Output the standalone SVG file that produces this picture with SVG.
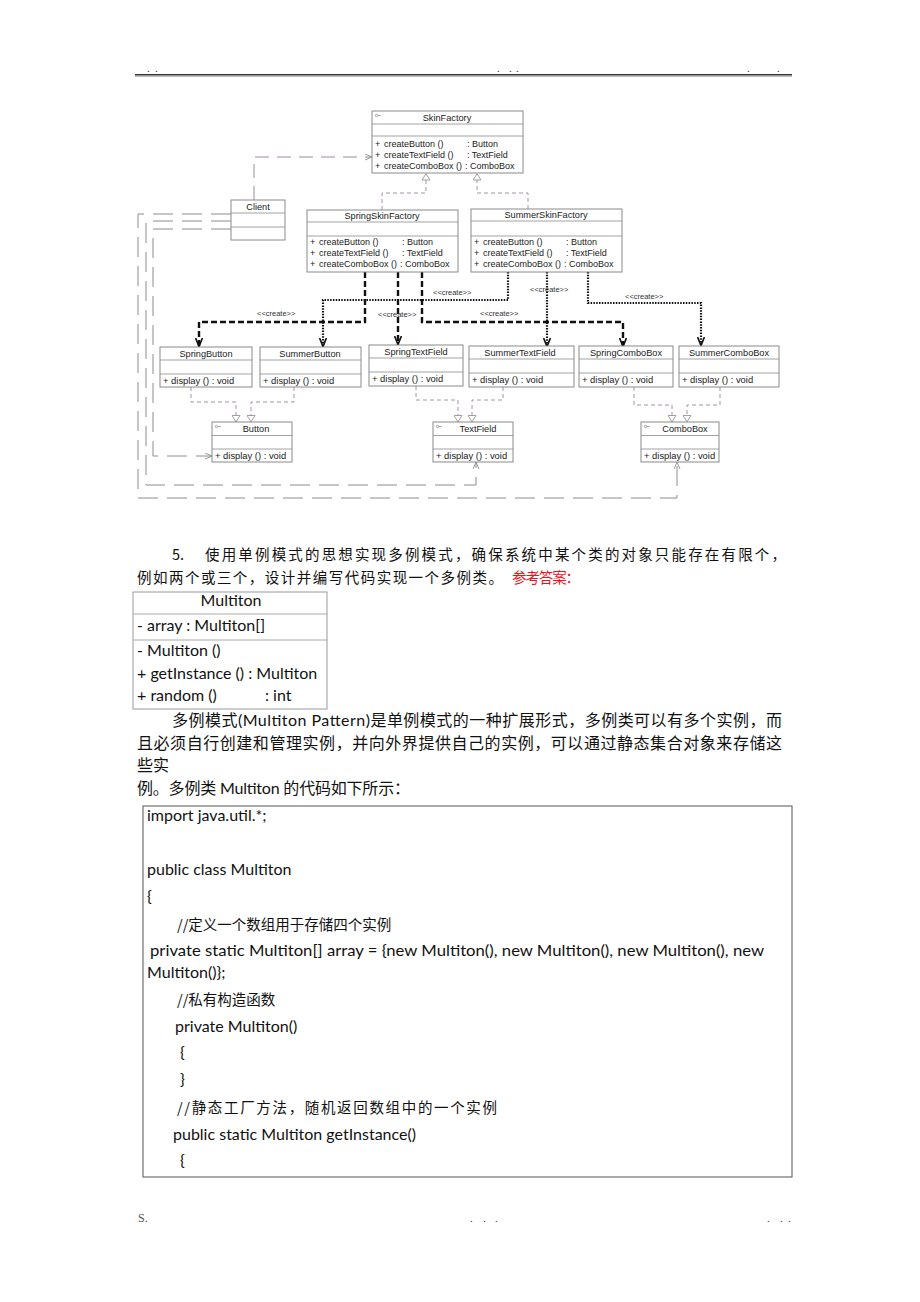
<svg xmlns="http://www.w3.org/2000/svg" width="920" height="1302" viewBox="0 0 920 1302">
<style>
.box{fill:#fff;stroke:#8a8a8a;stroke-width:1}
.sep{stroke:#8a8a8a;stroke-width:0.8}
.u{font-family:"Liberation Sans",Arial,sans-serif;fill:#222}
.ti{font-size:9.2px;text-anchor:middle}
.op{font-size:9px}
.pop{font-size:9.4px}
.lbl{font-family:"Liberation Sans",Arial,sans-serif;font-size:7.5px;fill:#333}
.gen{fill:none;stroke:#a393a6;stroke-width:1;stroke-dasharray:4,3}
.dep{fill:none;stroke:#8c8c8c;stroke-width:1;stroke-dasharray:20,9}
.dep2{fill:none;stroke:#9a8ca0;stroke-width:1;stroke-dasharray:14,8}
.cs{fill:none;stroke:#111;stroke-width:2.4;stroke-dasharray:6,3}
.cd{fill:none;stroke:#111;stroke-width:2.2;stroke-dasharray:1.5,1.3}
.ic{fill:none;stroke:#888;stroke-width:0.7}
.cn{font-family:"Noto Sans CJK SC",sans-serif;font-size:14.5px;fill:#111}
.lt{font-family:Lato,"Noto Sans CJK SC",sans-serif;font-size:16px;fill:#111}
.dot{font-family:"Liberation Serif",serif;font-size:11px;fill:#333}
</style>
<defs>
<marker id="tri" viewBox="0 0 7 9" refX="7" refY="4.5" markerWidth="7" markerHeight="9" orient="auto" markerUnits="userSpaceOnUse">
<path d="M0.5,0.5 L6.8,4.5 L0.5,8.5 Z" fill="#fff" stroke="#8a8a8a" stroke-width="0.8"/>
</marker>
<marker id="open" viewBox="0 0 7 7" refX="7" refY="3.5" markerWidth="7" markerHeight="7" orient="auto" markerUnits="userSpaceOnUse">
<path d="M0,0.5 L7,3.5 L0,6.5" fill="none" stroke="#8c8c8c" stroke-width="0.9"/>
</marker>
<marker id="cr" viewBox="0 0 9 8" refX="9" refY="4" markerWidth="9" markerHeight="8" orient="auto" markerUnits="userSpaceOnUse">
<path d="M0,0.6 L8.6,4 L0,7.4" fill="none" stroke="#111" stroke-width="1.6"/>
</marker>
</defs>
<rect width="920" height="1302" fill="#fff"/>

<g id="header">
<text class="dot" x="147 155" y="72">..</text>
<text class="dot" x="497 509 516" y="72">...</text>
<text class="dot" x="747 777" y="72">..</text>
<line x1="135" y1="74.8" x2="792" y2="74.8" stroke="#333" stroke-width="1.5"/>
<line x1="135" y1="76.5" x2="792" y2="76.5" stroke="#aaa" stroke-width="0.8"/>
</g>

<g id="connectors">
<path class="gen" d="M382,210 V193 H426 V173.5" marker-end="url(#tri)"/>
<path class="gen" d="M528,209 V193 H477 V173.5" marker-end="url(#tri)"/>
<path class="gen" d="M191,387 V402 H236 V422" marker-end="url(#tri)"/>
<path class="gen" d="M294,387 V402 H251 V422" marker-end="url(#tri)"/>
<path class="gen" d="M416,386 V400 H458 V422" marker-end="url(#tri)"/>
<path class="gen" d="M503,387 V400 H472 V422" marker-end="url(#tri)"/>
<path class="gen" d="M634,387 V405 H672 V422" marker-end="url(#tri)"/>
<path class="gen" d="M720,387 V405 H687 V422" marker-end="url(#tri)"/>
<path class="dep2" d="M254,200 V157 H372" marker-end="url(#open)"/>
<path class="dep" d="M231,229 H153 V456 H212" marker-end="url(#open)"/>
<path class="dep" d="M231,221 H146 V485 H476 V462" marker-end="url(#open)"/>
<path class="dep" d="M231,214 H138 V498 H677 V462" marker-end="url(#open)"/>
<path class="cs" d="M365,272 V322 H199 V347" marker-end="url(#cr)"/>
<path class="cs" d="M398,272 V345" marker-end="url(#cr)"/>
<path class="cs" d="M422,272 V322 H623 V347" marker-end="url(#cr)"/>
<path class="cd" d="M508,272 V300 H323 V347" marker-end="url(#cr)"/>
<path class="cd" d="M547,272 V347" marker-end="url(#cr)"/>
<path class="cd" d="M588,272 V303 H701 V346" marker-end="url(#cr)"/>
<text class="lbl" x="257" y="316">&lt;&lt;create&gt;&gt;</text>
<text class="lbl" x="378" y="317">&lt;&lt;create&gt;&gt;</text>
<text class="lbl" x="480" y="316">&lt;&lt;create&gt;&gt;</text>
<text class="lbl" x="433" y="295">&lt;&lt;create&gt;&gt;</text>
<text class="lbl" x="530" y="292">&lt;&lt;create&gt;&gt;</text>
<text class="lbl" x="625" y="299">&lt;&lt;create&gt;&gt;</text>
</g>

<g id="SkinFactory">
<rect class="box" x="372" y="111" width="151" height="62"/>
<line class="sep" x1="372" y1="124" x2="523" y2="124"/>
<line class="sep" x1="372" y1="136" x2="523" y2="136"/>
<circle class="ic" cx="376.5" cy="115.5" r="1.2"/><line class="ic" x1="377.7" y1="115.5" x2="381" y2="115.5"/>
<text class="u ti" x="447" y="120.5">SkinFactory</text>
<text class="u op" x="375" y="147">+</text><text class="u op" x="384" y="147">createButton ()</text><text class="u op" x="467" y="147">: Button</text>
<text class="u op" x="375" y="158">+</text><text class="u op" x="384" y="158">createTextField ()</text><text class="u op" x="467" y="158">: TextField</text>
<text class="u op" x="375" y="169">+</text><text class="u op" x="384" y="169">createComboBox ()</text><text class="u op" x="465" y="169">: ComboBox</text>
</g>

<g id="Client">
<rect class="box" x="231" y="200" width="54" height="40"/>
<line class="sep" x1="231" y1="213" x2="285" y2="213"/>
<line class="sep" x1="231" y1="227" x2="285" y2="227"/>
<text class="u ti" x="258" y="209.5">Client</text>
</g>

<g id="SpringSkinFactory">
<rect class="box" x="307" y="210" width="151" height="62"/>
<line class="sep" x1="307" y1="222" x2="458" y2="222"/>
<line class="sep" x1="307" y1="236" x2="458" y2="236"/>
<text class="u ti" x="382" y="219">SpringSkinFactory</text>
<text class="u op" x="310" y="245">+</text><text class="u op" x="319" y="245">createButton ()</text><text class="u op" x="402" y="245">: Button</text>
<text class="u op" x="310" y="256">+</text><text class="u op" x="319" y="256">createTextField ()</text><text class="u op" x="402" y="256">: TextField</text>
<text class="u op" x="310" y="267">+</text><text class="u op" x="319" y="267">createComboBox ()</text><text class="u op" x="400" y="267">: ComboBox</text>
</g>

<g id="SummerSkinFactory">
<rect class="box" x="471" y="209" width="151" height="63"/>
<line class="sep" x1="471" y1="221" x2="622" y2="221"/>
<line class="sep" x1="471" y1="236" x2="622" y2="236"/>
<text class="u ti" x="546" y="218">SummerSkinFactory</text>
<text class="u op" x="474" y="245">+</text><text class="u op" x="483" y="245">createButton ()</text><text class="u op" x="566" y="245">: Button</text>
<text class="u op" x="474" y="256">+</text><text class="u op" x="483" y="256">createTextField ()</text><text class="u op" x="566" y="256">: TextField</text>
<text class="u op" x="474" y="267">+</text><text class="u op" x="483" y="267">createComboBox ()</text><text class="u op" x="564" y="267">: ComboBox</text>
</g>

<g id="SpringButton">
<rect class="box" x="160" y="347" width="92" height="40"/>
<line class="sep" x1="160" y1="360" x2="252" y2="360"/>
<line class="sep" x1="160" y1="374" x2="252" y2="374"/>
<text class="u ti" x="206" y="356.5">SpringButton</text>
<text class="u pop" x="163" y="383.5">+ display () : void</text>
</g>

<g id="SummerButton">
<rect class="box" x="260" y="347" width="101" height="40"/>
<line class="sep" x1="260" y1="360" x2="361" y2="360"/>
<line class="sep" x1="260" y1="374" x2="361" y2="374"/>
<text class="u ti" x="310" y="356.5">SummerButton</text>
<text class="u pop" x="263" y="383.5">+ display () : void</text>
</g>

<g id="SpringTextField">
<rect class="box" x="369" y="345" width="94" height="41"/>
<line class="sep" x1="369" y1="358" x2="463" y2="358"/>
<line class="sep" x1="369" y1="372" x2="463" y2="372"/>
<text class="u ti" x="416" y="354.5">SpringTextField</text>
<text class="u pop" x="372" y="382">+ display () : void</text>
</g>

<g id="SummerTextField">
<rect class="box" x="469" y="346" width="105" height="41"/>
<line class="sep" x1="469" y1="359" x2="574" y2="359"/>
<line class="sep" x1="469" y1="373" x2="574" y2="373"/>
<text class="u ti" x="520" y="355.5">SummerTextField</text>
<text class="u pop" x="472" y="383">+ display () : void</text>
</g>

<g id="SpringComboBox">
<rect class="box" x="579" y="346" width="94" height="41"/>
<line class="sep" x1="579" y1="359" x2="673" y2="359"/>
<line class="sep" x1="579" y1="373" x2="673" y2="373"/>
<text class="u ti" x="626" y="355.5">SpringComboBox</text>
<text class="u pop" x="582" y="383">+ display () : void</text>
</g>

<g id="SummerComboBox">
<rect class="box" x="679" y="346" width="100" height="41"/>
<line class="sep" x1="679" y1="359" x2="779" y2="359"/>
<line class="sep" x1="679" y1="373" x2="779" y2="373"/>
<text class="u ti" x="729" y="355.5">SummerComboBox</text>
<text class="u pop" x="682" y="383">+ display () : void</text>
</g>

<g id="Button">
<rect class="box" x="212" y="422" width="80" height="40"/>
<line class="sep" x1="212" y1="435.5" x2="292" y2="435.5"/>
<line class="sep" x1="212" y1="449" x2="292" y2="449"/>
<circle class="ic" cx="216.5" cy="426.5" r="1.2"/><line class="ic" x1="217.7" y1="426.5" x2="221" y2="426.5"/>
<text class="u ti" x="256" y="431.5">Button</text>
<text class="u pop" x="215" y="459">+ display () : void</text>
</g>

<g id="TextField">
<rect class="box" x="433" y="422" width="80" height="40"/>
<line class="sep" x1="433" y1="435.5" x2="513" y2="435.5"/>
<line class="sep" x1="433" y1="449" x2="513" y2="449"/>
<circle class="ic" cx="437.5" cy="426.5" r="1.2"/><line class="ic" x1="438.7" y1="426.5" x2="442" y2="426.5"/>
<text class="u ti" x="478" y="431.5">TextField</text>
<text class="u pop" x="436" y="459">+ display () : void</text>
</g>

<g id="ComboBox">
<rect class="box" x="641" y="422" width="78" height="40"/>
<line class="sep" x1="641" y1="435.5" x2="719" y2="435.5"/>
<line class="sep" x1="641" y1="449" x2="719" y2="449"/>
<circle class="ic" cx="645.5" cy="426.5" r="1.2"/><line class="ic" x1="646.7" y1="426.5" x2="650" y2="426.5"/>
<text class="u ti" x="685" y="431.5">ComboBox</text>
<text class="u pop" x="644" y="459">+ display () : void</text>
</g>

<g id="question">
<text class="cn" x="172" y="560">5.</text>
<text class="cn" x="205" y="560" textLength="581" lengthAdjust="spacing">使用单例模式的思想实现多例模式，确保系统中某个类的对象只能存在有限个，</text>
<text class="cn" x="137" y="583" textLength="366" lengthAdjust="spacing">例如两个或三个，设计并编写代码实现一个多例类。</text>
<text class="cn" x="512" y="583" style="fill:#e8141b" textLength="68" lengthAdjust="spacing">参考答案：</text>
</g>

<g id="Multiton">
<rect x="133" y="592" width="194" height="117" fill="#fff" stroke="#999" stroke-width="1"/>
<line x1="133" y1="614" x2="327" y2="614" stroke="#aaa" stroke-width="1"/>
<line x1="133" y1="640" x2="327" y2="640" stroke="#aaa" stroke-width="1"/>
<text class="lt" x="231" y="606" text-anchor="middle">Multiton</text>
<text class="lt" x="137" y="631">- array : Multiton[]</text>
<text class="lt" x="137" y="656">- Multiton ()</text>
<text class="lt" x="137" y="679">+ getInstance () : Multiton</text>
<text class="lt" x="137" y="701">+ random ()</text>
<text class="lt" x="265" y="701">: int</text>
</g>

<g id="paragraph">
<text class="lt" x="172" y="726" textLength="610" lengthAdjust="spacing">多例模式(Multiton Pattern)是单例模式的一种扩展形式，多例类可以有多个实例，而</text>
<text class="lt" x="137" y="749" textLength="645" lengthAdjust="spacing">且必须自行创建和管理实例，并向外界提供自己的实例，可以通过静态集合对象来存储这</text>
<text class="lt" x="137" y="771">些实</text>
<text class="lt" x="137" y="794" textLength="273" lengthAdjust="spacing">例。多例类 Multiton 的代码如下所示：</text>
</g>

<g id="code">
<rect x="143" y="806" width="649" height="371" fill="#fff" stroke="#555" stroke-width="1"/>
<text class="lt" x="147" y="821">import java.util.*;</text>
<text class="lt" x="147" y="875">public class Multiton</text>
<text class="lt" x="147" y="902">{</text>
<text class="cn" x="177" y="930">//定义一个数组用于存储四个实例</text>
<text class="lt" x="150" y="956" textLength="614" lengthAdjust="spacingAndGlyphs">private static Multiton[] array = {new Multiton(), new Multiton(), new Multiton(), new</text>
<text class="lt" x="147" y="978">Multiton()};</text>
<text class="cn" x="177" y="1005">//私有构造函数</text>
<text class="lt" x="175" y="1032">private Multiton()</text>
<text class="lt" x="180" y="1058">{</text>
<text class="lt" x="180" y="1085">}</text>
<text class="cn" x="177" y="1113" textLength="320" lengthAdjust="spacing">//静态工厂方法，随机返回数组中的一个实例</text>
<text class="lt" x="173" y="1140">public static Multiton getInstance()</text>
<text class="lt" x="180" y="1166">{</text>
</g>

<g id="footer">
<text x="138" y="1222" font-family="'Liberation Serif',serif" font-size="12" fill="#555">S.</text>
<text class="dot" x="470 483 495" y="1222">...</text>
<text class="dot" x="767 780 788" y="1222">...</text>
</g>
</svg>
